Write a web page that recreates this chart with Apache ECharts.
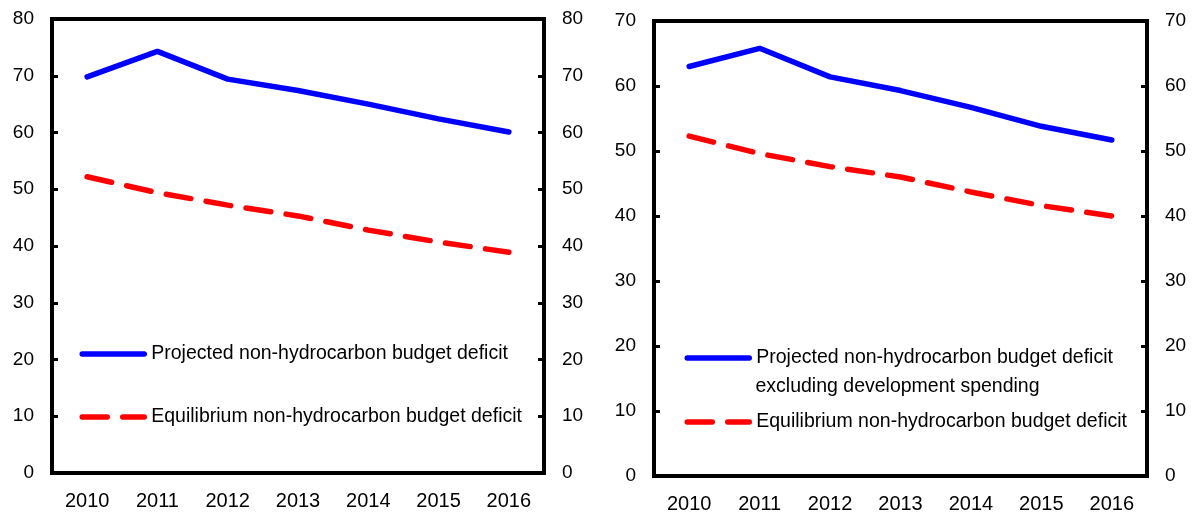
<!DOCTYPE html>
<html>
<head>
<meta charset="utf-8">
<script src="https://cdn.jsdelivr.net/npm/echarts@6/dist/echarts.min.js"></script>
<style>
  html, body { margin: 0; padding: 0; background: #fff; }
  #chart { width: 1194px; height: 515px; }
</style>
</head>
<body>
<div id="chart"></div>
<script>
const years = ["2010", "2011", "2012", "2013", "2014", "2015", "2016"];
// left panel
const projectedLeft = [69.8, 74.3, 69.4, 67.4, 65.0, 62.4, 60.1];
const equilibriumLeft = [52.2, 49.4, 47.2, 45.3, 42.8, 40.7, 38.9];
// right panel
const projectedRight = [63.0, 65.8, 61.4, 59.3, 56.7, 53.8, 51.7];
const equilibriumRight = [52.3, 49.6, 47.6, 46.0, 43.7, 41.6, 40.0];

const nameProjLeft = "Projected non-hydrocarbon budget deficit";
const nameProjRight = "Projected non-hydrocarbon budget deficit ";
const nameProjRight2 = "excluding development spending";
const nameEq = "Equilibrium non-hydrocarbon budget deficit";

const font = "'Liberation Sans', Arial, sans-serif";

const chart = echarts.init(document.getElementById("chart"));

function xAxis(gridIndex) {
  return {
    type: "category",
    gridIndex: gridIndex,
    data: years,
    boundaryGap: true,
    axisLine: { lineStyle: { color: "#000", width: 4 } },
    axisTick: { inside: true, length: 6, lineStyle: { color: "#000", width: 3 } },
    axisLabel: { color: "#000", fontSize: 20, fontFamily: font, margin: 18 },
  };
}

function yAxis(gridIndex, position, max) {
  return {
    type: "value",
    gridIndex: gridIndex,
    position: position,
    min: 0,
    max: max,
    interval: 10,
    splitLine: { show: false },
    axisLine: { show: true, lineStyle: { color: "#000", width: 4 } },
    axisTick: { show: true, inside: true, length: 6, lineStyle: { color: "#000", width: 3 } },
    axisLabel: { color: "#000", fontSize: 19, fontFamily: font, margin: 18 },
  };
}

function lineSeries(name, data, xi, yi, color, dashed) {
  return {
    name: name,
    type: "line",
    xAxisIndex: xi,
    yAxisIndex: yi,
    data: data,
    symbol: "none",
    lineStyle: {
      color: color,
      width: 5.5,
      type: dashed ? [25, 15.5] : "solid",
      cap: "round",
    },
    itemStyle: { color: color },
    silent: true,
  };
}

const legendText = {
  color: "#000", fontSize: 19.5, fontFamily: font, lineHeight: 29, padding: [0, 0, 0, 2],
};

function legend(name, left, centerY) {
  return {
    data: [name],
    left: left,
    top: centerY - 14.5,
    padding: 0,
    itemWidth: 62,
    itemHeight: 10,
    selectedMode: false,
    textStyle: legendText,
    itemStyle: { opacity: 0 },
    lineStyle: { width: 5.5, cap: "round" },
  };
}

chart.setOption({
  animation: false,
  grid: [
    { left: 52, right: 650, top: 19, bottom: 42, show: true, borderColor: "#000", borderWidth: 4 },
    { left: 654, right: 47, top: 21, bottom: 39, show: true, borderColor: "#000", borderWidth: 4 },
  ],
  xAxis: [xAxis(0), xAxis(1)],
  yAxis: [yAxis(0, "left", 80), yAxis(0, "right", 80), yAxis(1, "left", 70), yAxis(1, "right", 70)],
  legend: [
    legend(nameProjLeft, 79.5, 354),
    legend(nameEq, 79.5, 417),
    legend(nameProjRight, 684.5, 358),
    legend(nameEq, 684.5, 422),
  ],
  graphic: [
    {
      type: "text",
      x: 755.5,
      y: 387,
      style: { text: nameProjRight2, fill: "#000", font: "19.5px " + font, verticalAlign: "middle" },
      silent: true,
    },
  ],
  series: [
    lineSeries(nameProjLeft, projectedLeft, 0, 0, "#0000ff", false),
    lineSeries(nameEq, equilibriumLeft, 0, 0, "#ff0000", true),
    lineSeries(nameProjRight, projectedRight, 1, 2, "#0000ff", false),
    lineSeries(nameEq, equilibriumRight, 1, 2, "#ff0000", true),
  ],
});
</script>
</body>
</html>
